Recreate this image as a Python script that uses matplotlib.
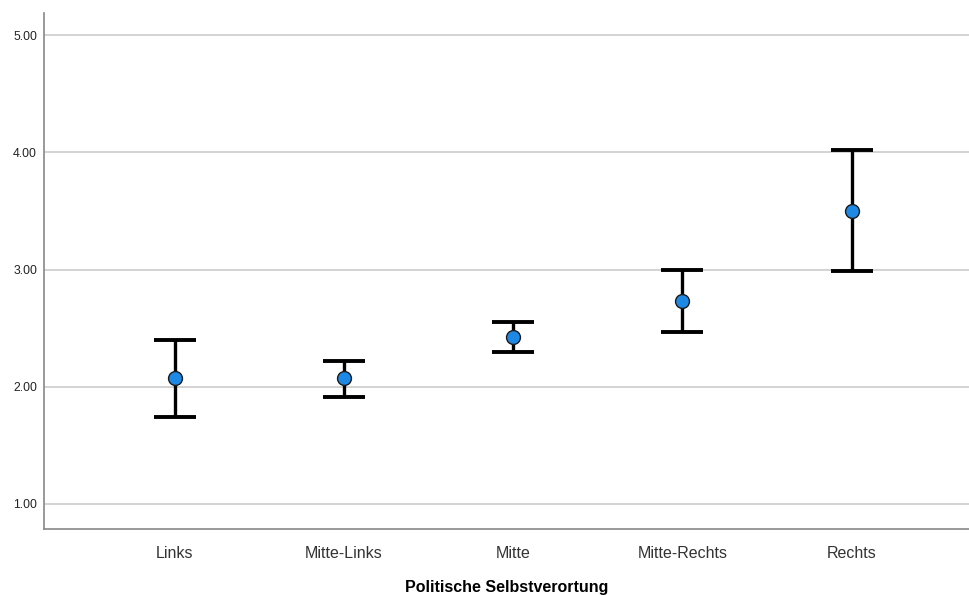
import matplotlib
matplotlib.use("Agg")
import matplotlib.pyplot as plt
import numpy as np

plt.rcParams["font.family"] = ["Liberation Sans", "DejaVu Sans"]

# Mittelwerte und 95%-Konfidenzintervalle je Gruppe
categories = ["Links", "Mitte-Links", "Mitte", "Mitte-Rechts", "Rechts"]
means = [2.07, 2.07, 2.42, 2.73, 3.50]
ci_lower = [1.74, 1.91, 2.30, 2.47, 2.99]
ci_upper = [2.40, 2.22, 2.55, 3.00, 4.02]
yticks = [1.0, 2.0, 3.0, 4.0, 5.0]

x = np.arange(len(categories))
means_arr = np.array(means)
err = [means_arr - np.array(ci_lower), np.array(ci_upper) - means_arr]

fig = plt.figure(figsize=(9.7, 5.96), dpi=100)
ax = fig.add_axes([0.0454, 0.1124, 0.9546, 0.8656])

ax.set_ylim(0.784, 5.19)
ax.set_xlim(-0.774, 4.70)
ax.set_yticks(yticks)
ax.set_yticklabels([f"{v:.2f}" for v in yticks], fontsize=8.8)
ax.yaxis.grid(True, color="#d0d0d0", linewidth=1.3)
ax.set_axisbelow(True)

ax.errorbar(x, means, yerr=err, fmt="none", ecolor="black",
            elinewidth=2.4, capsize=15, capthick=2.8, zorder=3)
ax.plot(x, means, "o", markersize=10, markerfacecolor="#1e88e5",
        markeredgecolor="#1a1a1a", markeredgewidth=1, zorder=4)

ax.set_xticks(x)
ax.set_xticklabels(categories, fontsize=11.5, color="#333333")
ax.tick_params(axis="x", length=0, pad=12)
ax.tick_params(axis="y", length=0, pad=5, colors="#222222")
ax.set_xlabel("Politische Selbstverortung", fontsize=11.5, fontweight="bold", labelpad=14)

for side in ["top", "right"]:
    ax.spines[side].set_visible(False)
for side in ["left", "bottom"]:
    ax.spines[side].set_color("#888888")
    ax.spines[side].set_linewidth(1.2)

fig.savefig("out.png", dpi=100)
